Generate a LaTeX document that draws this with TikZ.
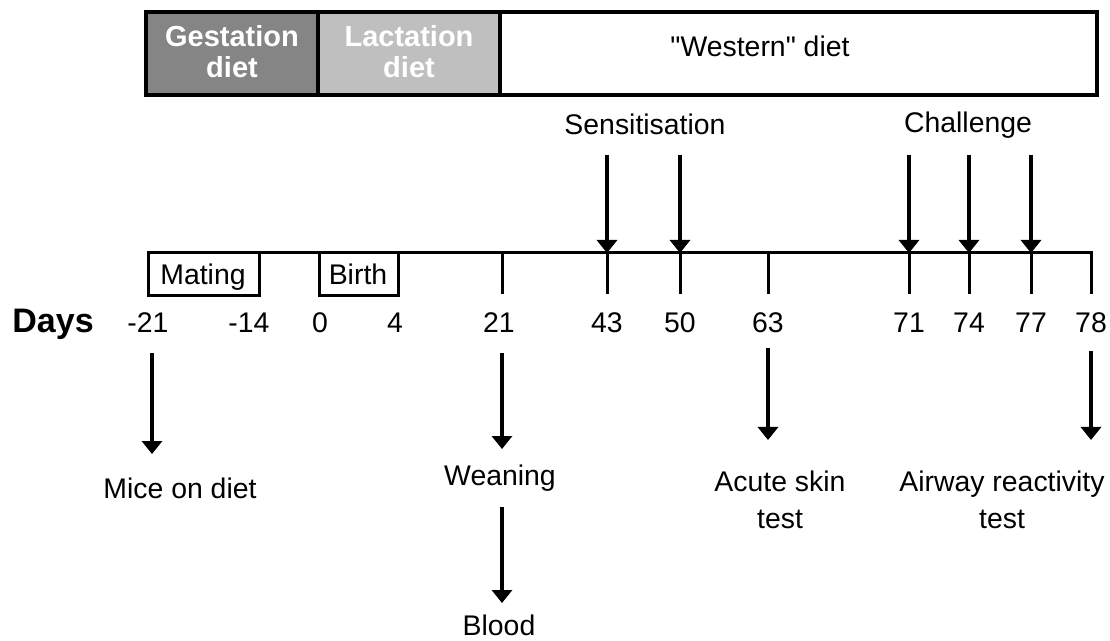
\documentclass[tikz,border=0pt]{standalone}
\usepackage{fontspec}
\setmainfont{Liberation Sans}
\usetikzlibrary{arrows.meta}

\begin{document}
\begin{tikzpicture}[x=0.5pt, y=-0.5pt,
        lbl/.style={inner sep=0pt, font=\fontsize{14.2}{18.5}\selectfont},
        dietlbl/.style={inner sep=0pt, text=white, align=center,
            font=\bfseries\fontsize{14.5}{15.5}\selectfont},
        axis/.style={line width=1.5pt},
        arr/.style={line width=2pt, -{Triangle[width=10pt,length=6.5pt]}}]
        \useasboundingbox (0,0) rectangle (1110,641);
        \def\ty{253}   % height of the time line
        \def\tb{294}   % lower end of the ticks
        \def\ny{333}   % baseline of the day numbers

        % diet bar
        \fill[black!48] (146,12) rectangle (318,95);
        \fill[black!25] (318,12) rectangle (500,95);
        \draw[line width=2pt] (146,12) rectangle (1097,95);
        \draw[line width=2pt] (318,12) -- (318,95) (500,12) -- (500,95);
        \node[dietlbl] (gest) at (232,52) {Gestation\\diet};
        \node[dietlbl] (lact) at (409,52) {Lactation\\diet};
        \node[lbl, anchor=base] (west) at (760,57) {\textquotedbl Western\textquotedbl{} diet};

        % time line and ticks
        \draw[axis] (148,\ty) -- (1091,\ty) -- (1091,\tb);
        \foreach \n/\x in {21/502, 43/607, 50/680, 63/768, 71/909, 74/969, 77/1031}
            \draw[axis] (\x,\ty) coordinate (t\n) -- (\x,\tb);
        \coordinate (t78) at (1091,\ty);
        \coordinate (tm21) at (152,\ty);
        \draw[axis] (148,\ty) rectangle (259,296);
        \node[lbl, anchor=base] (mating) at (203,285) {Mating};
        \draw[axis] (319,\ty) rectangle (398,296);
        \node[lbl, anchor=base] (birth) at (358,285) {Birth};

        % day numbers
        \node[lbl, anchor=base west, font=\bfseries\fontsize{17}{20}\selectfont] (days) at (12,\ny) {Days};
        \foreach \n/\t/\x in {m21/-21/148, m14/-14/249, d0/0/320, d4/4/395, d21/21/499,
                d43/43/607, d50/50/680, d63/63/768, d71/71/909, d74/74/969, d77/77/1031, d78/78/1091}
            \node[lbl, anchor=base] (\n) at (\x,\ny) {\t};

        % events above the line
        \node[lbl, anchor=base] (sens) at (645,135) {Sensitisation};
        \node[lbl, anchor=base] (chal) at (968,133) {Challenge};
        \foreach \n in {43,50}
            \draw[arr] ([yshift=-10pt]sens.base -| t\n) -- (t\n);
        \foreach \n in {71,74,77}
            \draw[arr] ([yshift=-11pt]chal.base -| t\n) -- (t\n);

        % events below the line
        \node[lbl, anchor=base] (mice) at (180,499) {Mice on diet};
        \node[lbl, anchor=base] (wean) at (500,486) {Weaning};
        \node[lbl, anchor=base] (blood) at (499,636) {Blood};
        \node[lbl, align=center, anchor=north] (skin) at (780,471) {Acute skin\\test};
        \node[lbl, align=center, anchor=north] (airway) at (1002,471) {Airway reactivity\\test};
        \draw[arr] ([yshift=-10pt]m21.base -| tm21) -- ([yshift=12pt]mice.north -| tm21);
        \draw[arr] ([yshift=-10pt]d21.base -| t21) -- ([yshift=8pt]wean.north -| t21);
        \draw[arr] ([yshift=-7.5pt]wean.south -| t21) -- ([yshift=6pt]blood.north -| t21);
        \draw[arr] ([yshift=-7.5pt]d63.base -| t63) -- ([yshift=15.5pt]skin.north -| t63);
        \draw[arr] ([yshift=-9pt]d78.base -| t78) -- ([yshift=15.5pt]airway.north -| t78);
    \end{tikzpicture}
\end{document}
